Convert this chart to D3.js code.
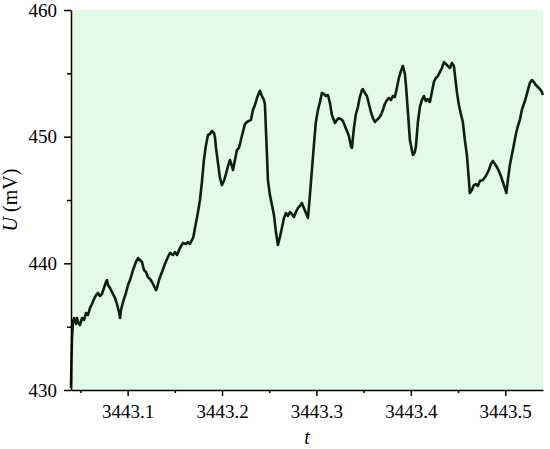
<!DOCTYPE html>
<html>
<head>
<meta charset="utf-8">
<script src="https://cdn.jsdelivr.net/npm/d3@7/dist/d3.min.js"></script>
<style>
  html, body { margin: 0; padding: 0; background: #ffffff; }
  svg { display: block; }
  svg text { font-family: "Liberation Serif", "Times New Roman", Times, "Nimbus Roman", "DejaVu Serif", serif !important; fill: #000; }
</style>
</head>
<body>
<svg id="chart" width="550" height="449"></svg>
<script>
// ---- data ----
const xDomain = [3443.04, 3443.54];
const yDomain = [430, 460];
const xTicks = [3443.1, 3443.2, 3443.3, 3443.4, 3443.5];
const xMinorTicks = [3443.05, 3443.15, 3443.25, 3443.35, 3443.45];
const yTicks = [430, 440, 450, 460];
const yMinorTicks = [435, 445, 455];
const xLabel = "t";
const yLabelItalic = "U";
const yLabelRest = " (mV)";

// [t, U (mV)]
const samples = [
  [3443.0400,430.16],[3443.0405,432.37],[3443.0411,434.18],[3443.0421,435.37],[3443.0432,435.68],
  [3443.0442,435.53],[3443.0453,435.21],[3443.0464,435.68],[3443.0474,435.37],[3443.0495,435.13],
  [3443.0516,435.68],[3443.0538,435.53],[3443.0559,436.08],[3443.0580,435.92],[3443.0601,436.47],
  [3443.0622,436.79],[3443.0654,437.34],[3443.0675,437.58],[3443.0686,437.66],[3443.0707,437.42],
  [3443.0728,437.58],[3443.0749,438.05],[3443.0771,438.53],[3443.0781,438.68],[3443.0792,438.29],
  [3443.0813,438.05],[3443.0834,437.74],[3443.0866,437.26],[3443.0887,436.79],[3443.0908,436.16],
  [3443.0919,435.68],[3443.0930,436.32],[3443.0951,436.95],[3443.0982,437.66],[3443.1004,438.29],
  [3443.1025,438.68],[3443.1057,439.47],[3443.1088,440.11],[3443.1110,440.42],[3443.1131,440.26],
  [3443.1152,440.11],[3443.1173,439.47],[3443.1194,439.32],[3443.1215,438.92],[3443.1237,438.76],
  [3443.1258,438.53],[3443.1279,438.21],[3443.1300,437.89],[3443.1311,438.05],[3443.1332,438.68],
  [3443.1364,439.32],[3443.1395,439.95],[3443.1427,440.50],[3443.1448,440.82],[3443.1480,440.66],
  [3443.1501,440.89],[3443.1523,440.66],[3443.1554,441.21],[3443.1586,441.61],[3443.1618,441.53],
  [3443.1639,441.68],[3443.1660,441.53],[3443.1681,441.84],[3443.1692,442.00],[3443.1703,442.32],
  [3443.1713,442.79],[3443.1734,443.58],[3443.1756,444.53],[3443.1766,445.00],[3443.1787,446.42],
  [3443.1808,448.16],[3443.1830,449.34],[3443.1851,450.13],[3443.1872,450.21],[3443.1893,450.45],
  [3443.1914,450.29],[3443.1925,449.97],[3443.1936,449.11],[3443.1957,447.92],[3443.1978,446.74],
  [3443.1999,446.18],[3443.2020,446.50],[3443.2041,447.05],[3443.2063,447.68],[3443.2084,448.16],
  [3443.2105,447.68],[3443.2116,447.37],[3443.2137,448.16],[3443.2158,448.95],[3443.2179,449.11],
  [3443.2200,449.74],[3443.2221,450.37],[3443.2243,451.00],[3443.2264,451.16],[3443.2285,451.24],
  [3443.2306,451.32],[3443.2327,452.11],[3443.2349,452.50],[3443.2370,453.05],[3443.2391,453.45],
  [3443.2402,453.61],[3443.2423,453.21],[3443.2444,452.89],[3443.2454,452.58],[3443.2465,450.53],
  [3443.2476,448.55],[3443.2486,446.58],[3443.2507,445.39],[3443.2529,444.61],[3443.2550,443.82],
  [3443.2571,442.47],[3443.2592,441.45],[3443.2613,442.08],[3443.2634,442.79],[3443.2656,443.58],
  [3443.2677,443.97],[3443.2698,443.74],[3443.2719,444.05],[3443.2740,443.89],[3443.2761,443.66],
  [3443.2783,444.05],[3443.2804,444.37],[3443.2825,444.53],[3443.2846,444.76],[3443.2867,444.37],
  [3443.2889,443.97],[3443.2910,443.58],[3443.2931,445.39],[3443.2952,447.37],[3443.2973,449.34],
  [3443.2994,451.16],[3443.3016,452.11],[3443.3037,452.74],[3443.3058,453.45],[3443.3079,453.37],
  [3443.3100,453.21],[3443.3122,453.29],[3443.3143,452.66],[3443.3164,451.71],[3443.3196,451.08],
  [3443.3217,451.32],[3443.3238,451.47],[3443.3259,451.39],[3443.3280,451.24],[3443.3302,450.84],
  [3443.3323,450.45],[3443.3344,450.05],[3443.3365,449.26],[3443.3376,449.11],[3443.3397,450.68],
  [3443.3418,451.79],[3443.3439,452.34],[3443.3460,453.13],[3443.3482,453.68],[3443.3492,453.76],
  [3443.3513,453.45],[3443.3535,453.21],[3443.3556,452.58],[3443.3577,451.95],[3443.3598,451.47],
  [3443.3619,451.16],[3443.3640,451.32],[3443.3662,451.47],[3443.3683,451.71],[3443.3704,452.11],
  [3443.3725,452.58],[3443.3746,452.89],[3443.3768,453.05],[3443.3789,452.89],[3443.3810,453.21],
  [3443.3831,453.13],[3443.3852,453.84],[3443.3873,454.63],[3443.3895,455.18],[3443.3916,455.58],
  [3443.3937,454.95],[3443.3948,454.08],[3443.3969,451.95],[3443.3990,449.74],[3443.4011,448.95],
  [3443.4022,448.55],[3443.4043,448.79],[3443.4054,449.26],[3443.4075,451.16],[3443.4096,452.34],
  [3443.4117,452.89],[3443.4138,453.21],[3443.4159,452.82],[3443.4181,452.97],[3443.4202,452.74],
  [3443.4223,453.53],[3443.4244,454.32],[3443.4265,454.63],[3443.4287,454.79],[3443.4308,455.11],
  [3443.4329,455.42],[3443.4350,455.89],[3443.4371,455.74],[3443.4392,455.58],[3443.4414,455.42],
  [3443.4435,455.82],[3443.4456,455.58],[3443.4467,454.87],[3443.4488,453.53],[3443.4509,452.50],
  [3443.4530,451.79],[3443.4551,451.16],[3443.4572,449.74],[3443.4594,448.55],[3443.4615,446.58],
  [3443.4625,445.55],[3443.4646,445.79],[3443.4668,446.18],[3443.4689,446.26],[3443.4710,446.11],
  [3443.4731,446.50],[3443.4763,446.58],[3443.4795,446.89],[3443.4826,447.37],[3443.4848,447.84],
  [3443.4869,448.08],[3443.4890,447.84],[3443.4911,447.61],[3443.4932,447.29],[3443.4954,446.89],
  [3443.4975,446.42],[3443.4996,445.95],[3443.5012,445.55],[3443.5028,446.58],[3443.5049,447.76],
  [3443.5070,448.55],[3443.5091,449.34],[3443.5113,450.21],[3443.5134,450.84],[3443.5155,451.32],
  [3443.5176,452.11],[3443.5197,452.58],[3443.5218,453.05],[3443.5240,453.68],[3443.5261,454.24],
  [3443.5282,454.47],[3443.5303,454.32],[3443.5324,454.08],[3443.5346,453.92],[3443.5367,453.76],
  [3443.5388,453.53],[3443.5398,453.29]
];

// ---- layout ----
const W = 550, H = 449;
const margin = { left: 71, top: 10, right: 7, bottom: 59 };
const FONT = '"Liberation Serif", "Times New Roman", Times, "Nimbus Roman", "DejaVu Serif", serif';
const svg = d3.select("#chart");
const x = d3.scaleLinear().domain(xDomain).range([margin.left, W - margin.right]);
const y = d3.scaleLinear().domain(yDomain).range([H - margin.bottom, margin.top]);

// plot background
svg.append("rect")
  .attr("x", x(xDomain[0])).attr("y", y(yDomain[1]))
  .attr("width", x(xDomain[1]) - x(xDomain[0]))
  .attr("height", y(yDomain[0]) - y(yDomain[1]))
  .attr("fill", "#e3fae4");

// line
const line = d3.line().x(d => x(d[0])).y(d => y(d[1]));
svg.append("path")
  .datum(samples)
  .attr("fill", "none")
  .attr("stroke", "#0f1f10")
  .attr("stroke-width", 2.6)
  .attr("stroke-linejoin", "round")
  .attr("d", line);

// axes
const fontSize = 19;
const xAxis = svg.append("g")
  .attr("transform", `translate(0,${y(yDomain[0])})`)
  .call(d3.axisBottom(x).tickValues(xTicks).tickFormat(d3.format(".1f"))
        .tickSize(6).tickSizeOuter(0).tickPadding(9));
const xMinor = svg.append("g")
  .attr("transform", `translate(0,${y(yDomain[0])})`)
  .call(d3.axisBottom(x).tickValues(xMinorTicks).tickFormat("").tickSize(3).tickSizeOuter(0));
xMinor.select(".domain").remove();

const yAxis = svg.append("g")
  .attr("transform", `translate(${x(xDomain[0])},0)`)
  .call(d3.axisLeft(y).tickValues(yTicks).tickFormat(d3.format("d"))
        .tickSize(7).tickSizeOuter(0).tickPadding(7));
const yMinor = svg.append("g")
  .attr("transform", `translate(${x(xDomain[0])},0)`)
  .call(d3.axisLeft(y).tickValues(yMinorTicks).tickFormat("").tickSize(4).tickSizeOuter(0));
yMinor.select(".domain").remove();

svg.selectAll("g").attr("font-family", FONT);
svg.selectAll(".domain").attr("stroke", "#000").attr("stroke-width", 1.5);
svg.selectAll(".tick line").attr("stroke", "#000").attr("stroke-width", 1.5);
svg.selectAll(".tick text")
  .attr("font-family", FONT)
  .attr("font-size", fontSize).attr("fill", "#000");

// axis titles
svg.append("text")
  .attr("x", (x(xDomain[0]) + x(xDomain[1])) / 2)
  .attr("y", 444)
  .attr("text-anchor", "middle")
  .attr("font-family", FONT)
  .attr("font-size", 20)
  .attr("font-style", "italic")
  .text(xLabel);

const yt = svg.append("text")
  .attr("transform", `translate(17,${(y(yDomain[0]) + y(yDomain[1])) / 2}) rotate(-90)`)
  .attr("text-anchor", "middle")
  .attr("font-family", FONT)
  .attr("font-size", 20);
yt.append("tspan").attr("font-style", "italic").text(yLabelItalic);
yt.append("tspan").text(yLabelRest);
</script>
</body>
</html>
